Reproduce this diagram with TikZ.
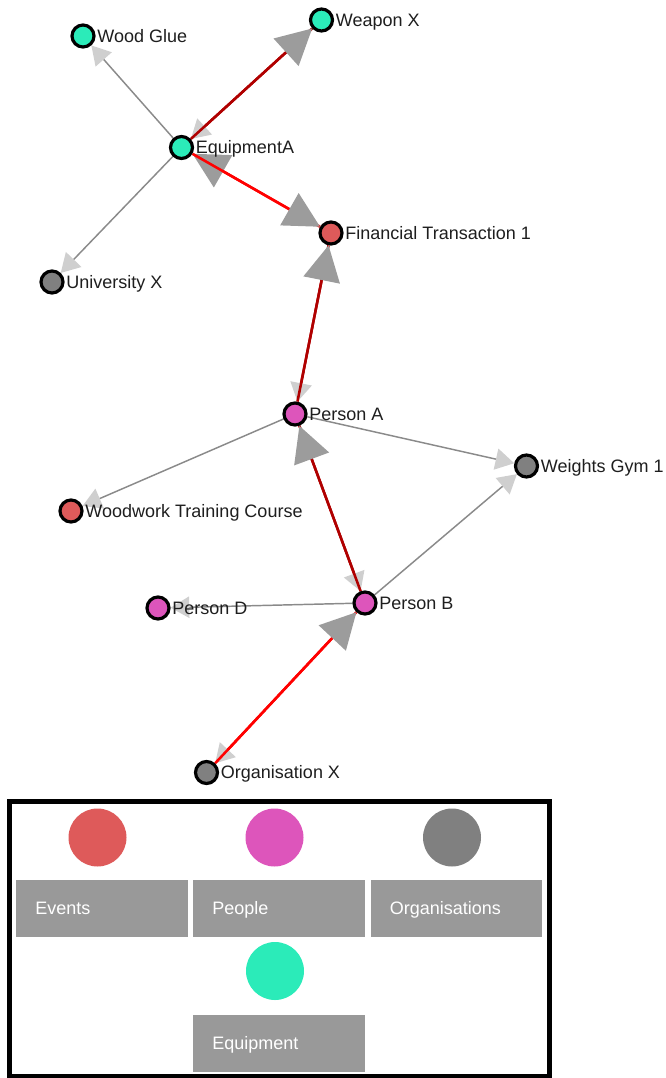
\documentclass[tikz,border=0pt]{standalone}
\usepackage{fontspec}
\setmainfont{Liberation Sans}
\usetikzlibrary{arrows.meta,backgrounds}
\definecolor{eqcol}{HTML}{2BEBB9}
\definecolor{evcol}{HTML}{DE5A5A}
\definecolor{pecol}{HTML}{DD55BB}
\definecolor{orcol}{HTML}{808080}
\definecolor{edgegray}{HTML}{8A8A8A}
\definecolor{darkred}{HTML}{B00000}
\definecolor{tipbig}{HTML}{9C9C9C}
\definecolor{tipsmall}{HTML}{CFCFCF}
\definecolor{boxgray}{HTML}{999999}
\definecolor{labcol}{HTML}{1E1E1E}
\begin{document}
\begin{tikzpicture}[x=0.75pt,y=-0.75pt,
 ent/.style={circle,draw=black,line width=2.4pt,minimum size=16.5pt,inner sep=0pt,fill=#1},
 lab/.style={anchor=west,inner xsep=1.2pt,inner ysep=0pt,text height=9.7pt,text depth=0pt,text=labcol,font=\fontsize{13.5pt}{16pt}\selectfont},
 gedge/.style={draw=edgegray,line width=1.1pt},
 redge/.style={draw=red,line width=1.9pt},
 dedge/.style={draw=darkred,line width=1.9pt},
 smalltip/.style={-{Triangle[length=14pt,width=16pt,color=tipsmall]}},
 bigtip/.style={-{Triangle[length=26.5pt,width=27.5pt,color=tipbig]}},
 legdot/.style={circle,fill=#1,minimum size=43.5pt,inner sep=0pt},
 legbox/.style={fill=boxgray,text=white,minimum height=42.75pt,text width=100pt,inner xsep=14.25pt,align=left,text height=9.7pt,text depth=0pt,font=\fontsize{13.5pt}{16pt}\selectfont},
]
\useasboundingbox (0,0) rectangle (665,1078);

% entities
\node[ent=eqcol] (wg) at (83,36) {};
\node[ent=eqcol] (wx) at (321.5,20) {};
\node[ent=eqcol] (eqa) at (181.5,147.5) {};
\node[ent=evcol] (ft) at (331,233) {};
\node[ent=orcol] (ux) at (52,282) {};
\node[ent=pecol] (pa) at (295,414) {};
\node[ent=orcol] (wgym) at (526.5,466) {};
\node[ent=evcol] (wtc) at (71,511) {};
\node[ent=pecol] (pb) at (365,603) {};
\node[ent=pecol] (pd) at (158,608) {};
\node[ent=orcol] (ox) at (206.5,772.5) {};

% labels
\node[lab] (lwg) at (wg.east) {Wood Glue};
\node[lab] (lwx) at (wx.east) {Weapon X};
\node[lab] (leqa) at (eqa.east) {EquipmentA};
\node[lab] (lft) at (ft.east) {Financial Transaction 1};
\node[lab] (lux) at (ux.east) {University X};
\node[lab] (lpa) at (pa.east) {Person A};
\node[lab] (lwgym) at (wgym.east) {Weights Gym 1};
\node[lab] (lwtc) at (wtc.east) {Woodwork Training Course};
\node[lab] (lpb) at (pb.east) {Person B};
\node[lab] (lpd) at (pd.east) {Person D};
\node[lab] (lox) at (ox.east) {Organisation X};

% connectors
\begin{pgfonlayer}{background}
\draw[gedge,smalltip] (eqa) -- (wg);
\draw[gedge,smalltip] (eqa) -- (ux);
\draw[dedge,smalltip] (wx) -- (eqa);
\draw[dedge,bigtip] (eqa) -- (wx);
\draw[redge,bigtip] (ft) -- (eqa);
\draw[redge,bigtip] (eqa) -- (ft);
\draw[dedge,smalltip] (ft) -- (pa);
\draw[dedge,bigtip] (pa) -- (ft);
\draw[gedge,smalltip] (pa) -- (wgym);
\draw[gedge,smalltip] (pa) -- (wtc);
\draw[dedge,smalltip] (pa) -- (pb);
\draw[dedge,bigtip] (pb) -- (pa);
\draw[gedge,smalltip] (pb) -- (wgym);
\draw[gedge,smalltip] (pb) -- (pd);
\draw[redge,smalltip] (pb) -- (ox);
\draw[redge,bigtip] (ox) -- (pb);
\end{pgfonlayer}

% legend
\draw[line width=3.75pt] (9.5,801.5) rectangle (549,1076.5);
\node[legdot=evcol] (dev) at (97.5,837.5) {};
\node[legdot=pecol] (dpe) at (274.5,837.5) {};
\node[legdot=orcol] (dor) at (452,837.5) {};
\node[legdot=eqcol] (deq) at (275,971) {};
\node[legbox] (bev) at (102,908.5) {Events};
\node[legbox] (bpe) at (279,908.5) {People};
\node[legbox] (bor) at (456.5,908.5) {Organisations};
\node[legbox] (beq) at (279,1043) {Equipment};
\end{tikzpicture}
\end{document}
